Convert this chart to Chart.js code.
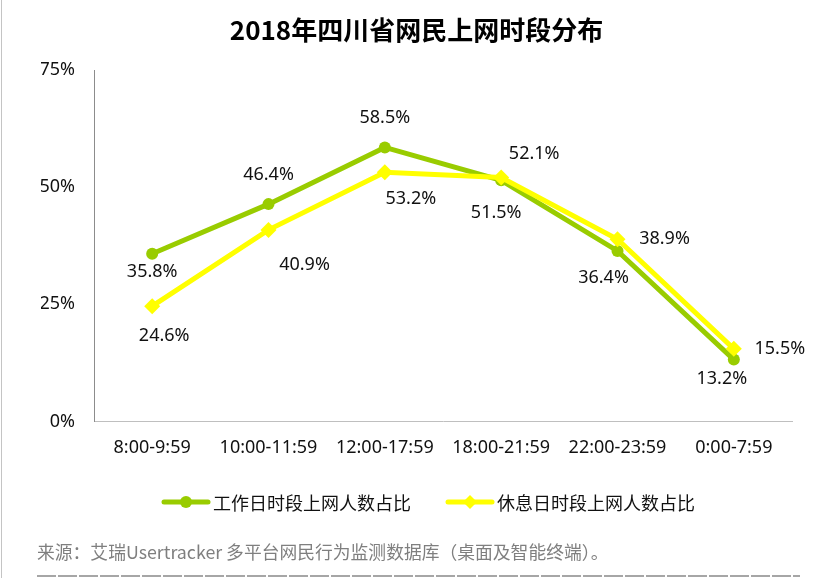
<!DOCTYPE html>
<html>
<head>
<meta charset="utf-8">
<script src="https://cdn.jsdelivr.net/npm/chart.js@4/dist/chart.umd.min.js"></script>
<style>
  html, body { margin: 0; padding: 0; background: #fff; }
  #wrap { width: 833px; height: 578px; position: relative; }
</style>
</head>
<body>
<div id="wrap"><canvas id="c" width="833" height="578"></canvas></div>
<script>
const titleText = '2018年四川省网民上网时段分布';
const categories = ['8:00-9:59', '10:00-11:59', '12:00-17:59', '18:00-21:59', '22:00-23:59', '0:00-7:59'];
const workdayName = '工作日时段上网人数占比';
const workdayValues = [35.8, 46.4, 58.5, 51.5, 36.4, 13.2];
const restdayName = '休息日时段上网人数占比';
const restdayValues = [24.6, 40.9, 53.2, 52.1, 38.9, 15.5];
const yTicks = [0, 25, 50, 75];
const sourceText = '来源：艾瑞Usertracker 多平台网民行为监测数据库（桌面及智能终端）。';

// label placement offsets (style only), relative to each point
const workdayLabelOffsets = [[0, 18], [0, -29], [0, -30], [-5, 33], [-14, 27], [-12, 19]];
const restdayLabelOffsets = [[12, 30], [36, 35], [26, 27], [33, -24], [47, 0], [46, 0]];

const GREEN = '#99cc00';
const YELLOW = '#ffff00';
const LATIN = '"Noto Sans", "Noto Sans CJK SC", sans-serif';
const CJK = '"Noto Sans CJK SC", "Noto Sans", sans-serif';

const labelPlugin = {
  id: 'valueLabels',
  afterDatasetsDraw(chart) {
    const ctx = chart.ctx;
    ctx.save();
    ctx.font = '18px ' + LATIN;
    ctx.fillStyle = '#111';
    ctx.textAlign = 'center';
    ctx.textBaseline = 'middle';
    chart.data.datasets.forEach((ds, di) => {
      const meta = chart.getDatasetMeta(di);
      const offs = ds.labelOffsets;
      meta.data.forEach((pt, i) => {
        const o = offs[i];
        ctx.fillText(ds.data[i].toFixed(1) + '%', pt.x + o[0], pt.y + o[1]);
      });
    });
    ctx.restore();
  }
};

function drawLegendItem(ctx, x, y, color, style, text) {
  ctx.save();
  ctx.strokeStyle = color;
  ctx.lineWidth = 5;
  ctx.lineCap = 'round';
  ctx.beginPath();
  ctx.moveTo(x, y);
  ctx.lineTo(x + 44, y);
  ctx.stroke();
  ctx.fillStyle = color;
  ctx.beginPath();
  const cx = x + 22;
  if (style === 'circle') {
    ctx.arc(cx, y, 6, 0, Math.PI * 2);
  } else {
    ctx.moveTo(cx - 7, y); ctx.lineTo(cx, y - 7); ctx.lineTo(cx + 7, y); ctx.lineTo(cx, y + 7); ctx.closePath();
  }
  ctx.fill();
  ctx.fillStyle = '#111';
  ctx.font = '18px ' + CJK;
  ctx.textAlign = 'left';
  ctx.textBaseline = 'middle';
  ctx.fillText(text, x + 49, y + 1);
  ctx.restore();
}

const decorPlugin = {
  id: 'decor',
  afterDraw(chart) {
    const ctx = chart.ctx;
    ctx.save();
    // left border
    ctx.strokeStyle = '#c4c4c4';
    ctx.lineWidth = 1;
    ctx.beginPath();
    ctx.moveTo(1.5, 0); ctx.lineTo(1.5, 578);
    ctx.stroke();
    // legend
    drawLegendItem(ctx, 164, 502, GREEN, 'circle', workdayName);
    drawLegendItem(ctx, 448, 502, YELLOW, 'diamond', restdayName);
    // source
    ctx.fillStyle = '#7f7f7f';
    ctx.font = '17.8px ' + CJK;
    ctx.textAlign = 'left';
    ctx.textBaseline = 'middle';
    ctx.fillText(sourceText, 37, 552);
    // dashed line
    ctx.strokeStyle = '#a6a6a6';
    ctx.lineWidth = 2;
    ctx.setLineDash([19, 2]);
    ctx.beginPath();
    ctx.moveTo(37, 576); ctx.lineTo(800, 576);
    ctx.stroke();
    ctx.restore();
  }
};

new Chart(document.getElementById('c'), {
  type: 'line',
  data: {
    labels: categories,
    datasets: [
      {
        label: workdayName,
        data: workdayValues,
        labelOffsets: workdayLabelOffsets,
        borderColor: GREEN,
        backgroundColor: GREEN,
        borderWidth: 5,
        pointStyle: 'circle',
        pointRadius: 6,
        pointBorderWidth: 0,
        tension: 0,
        order: 2
      },
      {
        label: restdayName,
        data: restdayValues,
        labelOffsets: restdayLabelOffsets,
        borderColor: YELLOW,
        backgroundColor: YELLOW,
        borderWidth: 5,
        pointStyle: 'rectRot',
        pointRadius: 8,
        pointBorderWidth: 0,
        tension: 0,
        order: 1
      }
    ]
  },
  options: {
    responsive: false,
    animation: false,
    events: [],
    layout: { padding: { left: 41, right: 41, top: 0, bottom: 103 } },
    plugins: {
      legend: { display: false },
      tooltip: { enabled: false },
      title: {
        display: true,
        text: titleText,
        color: '#000',
        font: { family: CJK, size: 26, weight: 'bold', lineHeight: 1.2 },
        padding: { top: 15, bottom: 24 }
      }
    },
    scales: {
      x: {
        offset: true,
        grid: { display: false, drawTicks: false },
        border: { display: true, color: '#bfbfbf', width: 1 },
        ticks: { color: '#111', font: { family: LATIN, size: 18, lineHeight: 1.2 }, padding: 16, maxRotation: 0, autoSkip: false }
      },
      y: {
        min: 0,
        max: 75,
        afterBuildTicks(scale) { scale.ticks = yTicks.map(v => ({ value: v })); },
        afterFit(scale) { scale.width = 53; },
        grid: { display: false, drawTicks: false },
        border: { display: true, color: '#8c8c8c', width: 1 },
        ticks: { color: '#111', font: { family: LATIN, size: 18, lineHeight: 1.2 }, padding: 19, callback: v => v + '%' }
      }
    }
  },
  plugins: [labelPlugin, decorPlugin]
});
</script>
</body>
</html>
